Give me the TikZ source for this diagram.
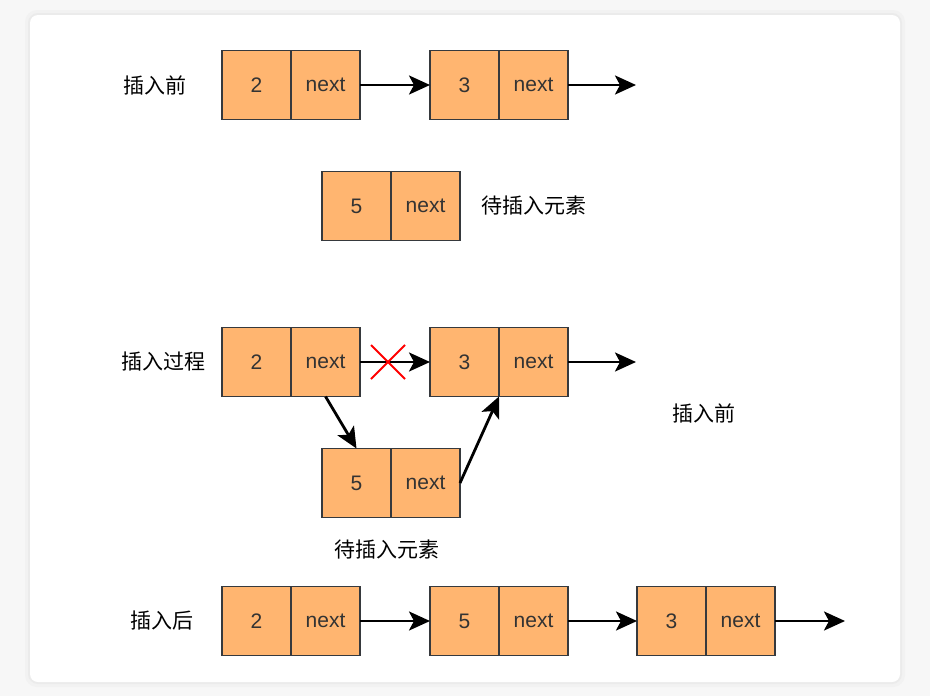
\documentclass[tikz,border=0pt]{standalone}
\usepackage{fontspec}
\setmainfont{Liberation Sans}
\newfontfamily\cjk{Noto Sans CJK SC}
\usepackage{xcolor}
\usepackage{tikz}
\usetikzlibrary{calc, positioning, arrows.meta}

\definecolor{cellfill}{HTML}{FFB570}
\definecolor{cellline}{HTML}{36393D}
\definecolor{txtgray}{HTML}{333333}

\begin{document}
\begin{tikzpicture}[x=1pt, y=-1pt, >={Stealth[length=21pt, width=19pt, inset=5pt]},
    cell/.style={draw=cellline, fill=cellfill, line width=1.3pt,
        minimum width=69pt, minimum height=69pt, inner sep=0pt, outer sep=0pt,
        font=\fontsize{21}{21}\selectfont, text=txtgray},
    link/.style={->, line width=2.8pt},
    tag/.style={font=\cjk\fontsize{21}{21}\selectfont, text=black}]
    % 1. Nền và khung
    \useasboundingbox (0,0) rectangle (930,696);
    \fill[gray!6] (0,0) rectangle (930,696);
    \fill[gray!10, rounded corners=12] (25,10) rectangle (905,687);
    \fill[gray!16, rounded corners=10] (28,13) rectangle (902,684);
    \fill[white, rounded corners=8] (30,15) rectangle (900,682);

    % 2. Các nút của danh sách
    \foreach \name/\x/\y/\val in {r1a/256.5/85/2, r1b/464.5/85/3,
            r2a/356.5/206/5,
            r3a/256.5/362/2, r3b/464.5/362/3, r3c/356.5/483/5,
            r4a/256.5/621/2, r4b/464.5/621/5, r4c/671.5/621/3} {
        \node[cell] (\name-v) at (\x,\y) {\val};
        \node[cell, right=0pt of \name-v] (\name-n) {next};
    }

    % 3. Nhãn
    \node[tag] (lbl1) at (155,85) {插入前};
    \node[tag] (lbl2) at (534,206) {待插入元素};
    \node[tag] (lbl3) at (163,362) {插入过程};
    \node[tag] (lbl4) at (704,413) {插入前};
    \node[tag] (lbl5) at (387,550) {待插入元素};
    \node[tag] (lbl6) at (162,621) {插入后};

    % 4. Mũi tên
    \coordinate (r1-end) at (636,85);
    \coordinate (r3-end) at (636,362);
    \coordinate (r4-end) at (845,621);
    \draw[link] (r1a-n.east) -- (r1b-v.west);
    \draw[link] (r1b-n.east) -- (r1-end);
    \draw[link] (r3a-n.east) -- (r3b-v.west);
    \draw[link] (r3b-n.east) -- (r3-end);
    \draw[link] (r3a-n.south) -- (r3c-v.north);
    \draw[link] (r3c-n.east) -- (r3b-v.south east);
    \draw[link] (r4a-n.east) -- (r4b-v.west);
    \draw[link] (r4b-n.east) -- (r4c-v.west);
    \draw[link] (r4c-n.east) -- (r4-end);

    % 5. Dấu cắt
    \coordinate (cut) at ($(r3a-n.east)!0.4!(r3b-v.west)$);
    \draw[red, line width=1.8pt] ($(cut)+(-17,-17)$) -- ($(cut)+(17,17)$);
    \draw[red, line width=1.8pt] ($(cut)+(-17,17)$) -- ($(cut)+(17,-17)$);
\end{tikzpicture}
\end{document}
